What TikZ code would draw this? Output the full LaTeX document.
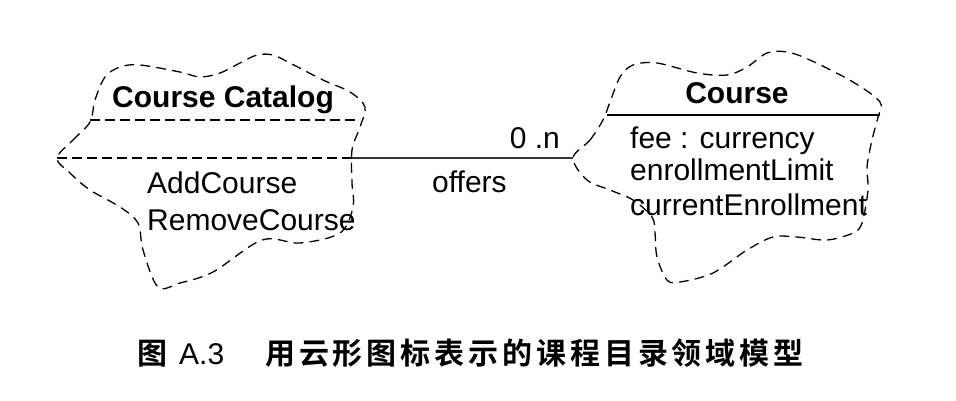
\documentclass[tikz,border=0pt]{standalone}
\usepackage{fontspec}
\setmainfont{Liberation Sans}
\newfontfamily\cjkb{Noto Sans CJK SC Bold}
\begin{document}
\begin{tikzpicture}[x=1pt,y=-1pt,
  cloud/.style={draw=black,line width=1.3pt,dash pattern=on 9pt off 7pt,line cap=round},
  sepdash/.style={draw=black,line width=1.1pt,dash pattern=on 10pt off 5pt},
  seprule/.style={draw=black,line width=1.2pt},
  assoc/.style={draw=black!80,line width=1.1pt},
  txt/.style={anchor=base west,inner sep=0pt,font=\fontsize{30}{30}\selectfont},
  title/.style={anchor=base,inner sep=0pt,font=\fontsize{30}{30}\selectfont\bfseries},
  capt/.style={anchor=base west,inner sep=0pt}]
\useasboundingbox (0,0) rectangle (956,400);

% Course Catalog cloud
\draw[cloud] plot[smooth cycle,tension=0.55] coordinates {
  (57,158) (73,140) (90,122) (95,100) (105,77) (120,67) (140,65) (180,72)
  (200,77) (220,73) (240,63) (257,55) (273,55) (290,63) (323,80) (350,92)
  (365,107) (360,127) (352,150) (352,183) (353,207) (340,233) (300,243)
  (262,240) (213,272) (180,283) (158,287) (143,250) (138,223) (120,207)
  (90,190) (70,173)};
\coordinate (catSepA) at (90,120);
\coordinate (catSepB) at (360,120);
\coordinate (catTip) at (57,158);
\coordinate (catR) at (352,158);
\draw[sepdash] (catSepA) -- (catSepB);
\draw[sepdash] (catTip) -- (catR);
\node[title,anchor=base west] (catName) at (112,107) {Course Catalog};
\node[txt] (opAdd) at (147,193) {AddCourse};
\node[txt] (opRem) at (147,230) {RemoveCourse};

% Course cloud
\draw[cloud] plot[smooth cycle,tension=0.55] coordinates {
  (573,158) (590,140) (603,120) (610,102) (620,77) (633,65) (657,63)
  (697,73) (727,75) (747,67) (767,53) (787,52) (810,60) (853,82) (880,102)
  (878,117) (872,140) (867,167) (868,190) (862,223) (853,233) (827,240)
  (797,237) (773,237) (747,250) (713,273) (680,282) (667,280) (657,257)
  (655,233) (652,217) (633,200) (610,190) (587,180)};
\coordinate (crsSepA) at (607,115);
\coordinate (crsSepB) at (880,115);
\coordinate (crsTip) at (573,158);
\draw[seprule] (crsSepA) -- (crsSepB);
\node[title] (crsName) at (737,103) {Course};
\node[txt] (atFee) at (630,148) {fee : currency};
\node[txt] (atLim) at (630,180) {enrollmentLimit};
\node[txt] (atCur) at (630,215) {currentEnrollment};

% offers association
\draw[assoc] (catR) -- (crsTip);
\node[txt,anchor=base east] (mult) at (560,148) {0 .n};
\node[txt] (role) at (432,192) {offers};

% caption
\node[capt,font=\fontsize{30}{30}\selectfont] (capNo) at (137,364)
  {{\cjkb 图}\hspace{12pt}A.3};
\node[capt,font=\fontsize{30}{30}\selectfont] (capText) at (265,364)
  {\cjkb\addfontfeature{LetterSpace=13}用云形图标表示的课程目录领域模型};
\end{tikzpicture}
\end{document}
